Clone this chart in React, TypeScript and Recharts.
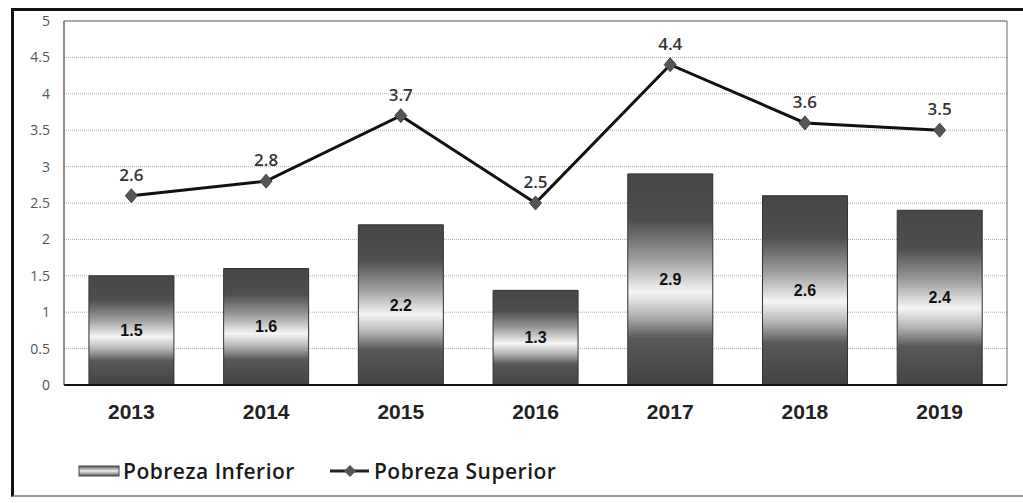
import {
  ComposedChart,
  Bar,
  Line,
  XAxis,
  YAxis,
  CartesianGrid,
  LabelList,
  Legend,
  ReferenceArea,
} from 'recharts';

const YEARS = ['2013', '2014', '2015', '2016', '2017', '2018', '2019'];
const POBREZA_INFERIOR = [1.5, 1.6, 2.2, 1.3, 2.9, 2.6, 2.4];
const POBREZA_SUPERIOR = [2.6, 2.8, 3.7, 2.5, 4.4, 3.6, 3.5];
const Y_TICKS = [0, 0.5, 1, 1.5, 2, 2.5, 3, 3.5, 4, 4.5, 5];

const data = YEARS.map((year, i) => ({
  year,
  inferior: POBREZA_INFERIOR[i],
  superior: POBREZA_SUPERIOR[i],
}));

const fmt = (v: number) => String(v);
const SOFT_FONT = '"Open Sans", "DejaVu Sans", sans-serif';
const ARIAL = '"Liberation Sans", Arial, sans-serif';

function Diamond(props: any) {
  const { cx, cy } = props;
  if (cx == null || cy == null) return null;
  return (
    <path
      d={`M${cx},${cy - 7} L${cx + 6},${cy} L${cx},${cy + 7} L${cx - 6},${cy} Z`}
      fill="#555"
      stroke="#444"
      strokeWidth={1}
    />
  );
}

function LegendContent() {
  return (
    <div
      style={{
        display: 'flex',
        alignItems: 'center',
        fontFamily: SOFT_FONT,
        fontWeight: 600,
        fontSize: 21,
        letterSpacing: 0.5,
        color: '#1a1a1a',
        paddingLeft: 78,
        height: 30,
      }}
    >
      <svg width={42} height={12} style={{ marginRight: 3 }}>
        <rect x={1} y={1} width={40} height={10} fill="url(#legendGrad)" stroke="#444" />
      </svg>
      <span>Pobreza Inferior</span>
      <svg width={42} height={14} style={{ marginLeft: 34, marginRight: 3 }}>
        <line x1={1} y1={7} x2={40} y2={7} stroke="#222" strokeWidth={3} />
        <path d="M21,1 L27,7 L21,13 L15,7 Z" fill="#555" />
      </svg>
      <span>Pobreza Superior</span>
    </div>
  );
}

export default function App() {
  return (
    <div style={{ position: 'absolute', left: 0, top: 0, width: 1023, height: 503, background: '#fff' }}>
      <div
        style={{
          position: 'absolute',
          left: 11,
          top: 8,
          width: 1030,
          height: 484,
          borderLeft: '3px solid #111',
          borderTop: '3px solid #111',
          borderBottom: '2px solid #999',
        }}
      />
      <div style={{ position: 'absolute', left: 0, top: 0 }}>
        <ComposedChart
          width={1023}
          height={503}
          data={data}
          margin={{ top: 21, right: 16, bottom: 17, left: 0 }}
          barCategoryGap="18.5%"
        >
          <defs>
            <linearGradient id="barGrad" x1="0" y1="0" x2="0" y2="1">
              <stop offset="0" stopColor="#474747" />
              <stop offset="0.22" stopColor="#4e4e4e" />
              <stop offset="0.4" stopColor="#9c9c9c" />
              <stop offset="0.56" stopColor="#f5f5f5" />
              <stop offset="0.67" stopColor="#b4b4b4" />
              <stop offset="0.78" stopColor="#585858" />
              <stop offset="1" stopColor="#434343" />
            </linearGradient>
            <linearGradient id="legendGrad" x1="0" y1="0" x2="0" y2="1">
              <stop offset="0" stopColor="#555" />
              <stop offset="0.5" stopColor="#eee" />
              <stop offset="1" stopColor="#555" />
            </linearGradient>
          </defs>
          <CartesianGrid vertical={false} stroke="#aaa" strokeDasharray="1 1" />
          <ReferenceArea y1={0} y2={5} fill="none" stroke="#666" strokeWidth={1} />
          <XAxis
            dataKey="year"
            axisLine={{ stroke: '#111', strokeWidth: 2 }}
            tickLine={false}
            tickSize={0}
            tickMargin={19}
            height={71}
            tick={{ fill: '#222', fontSize: 21, fontWeight: 'bold', fontFamily: ARIAL }}
          />
          <YAxis
            domain={[0, 5]}
            ticks={Y_TICKS}
            width={64}
            axisLine={{ stroke: '#666' }}
            tickLine={false}
            tickSize={0}
            tickMargin={14}
            tickFormatter={fmt}
            tick={{ fill: '#555', fontSize: 14, fontFamily: SOFT_FONT }}
          />
          <Bar dataKey="inferior" name="Pobreza Inferior" fill="url(#barGrad)" stroke="#333" strokeWidth={1} isAnimationActive={false}>
            <LabelList
              dataKey="inferior"
              position="center"
              fill="#111"
              fontSize={16}
              fontWeight="bold"
              fontFamily={ARIAL}
            />
          </Bar>
          <Line
            dataKey="superior"
            name="Pobreza Superior"
            stroke="#111"
            strokeWidth={3}
            dot={<Diamond />}
            activeDot={false}
            isAnimationActive={false}
          >
            <LabelList
              dataKey="superior"
              position="top"
              offset={15}
              fill="#333"
              fontSize={17}
              fontWeight={600}
              fontFamily={SOFT_FONT}
            />
          </Line>
          <Legend verticalAlign="bottom" align="left" content={<LegendContent />} />
        </ComposedChart>
      </div>
    </div>
  );
}
